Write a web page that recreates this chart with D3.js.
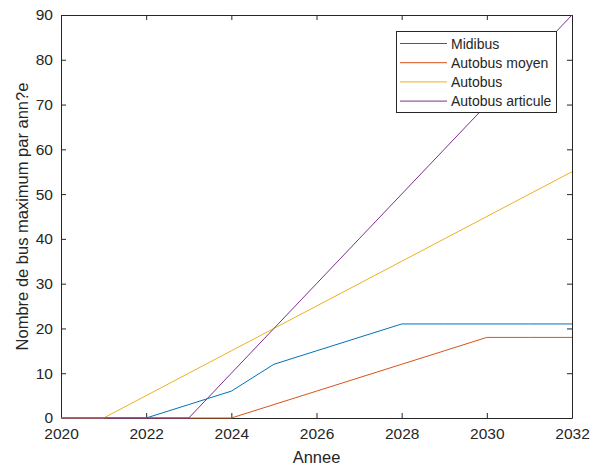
<!DOCTYPE html>
<html>
<head>
<meta charset="utf-8">
<script src="https://cdn.jsdelivr.net/npm/d3@7"></script>
<style>
  body { margin: 0; background: #fff; }
  text { font-family: "Liberation Sans", Arial, sans-serif; fill: #262626; }
</style>
</head>
<body>
<script>
const years = [2020, 2021, 2022, 2023, 2024, 2025, 2026, 2027, 2028, 2029, 2030, 2031, 2032];
const midibus = [0, 0, 0, 3, 6, 12, 15, 18, 21, 21, 21, 21, 21];
const autobusMoyen = [0, 0, 0, 0, 0, 3, 6, 9, 12, 15, 18, 18, 18];
const autobus = [0, 0, 5, 10, 15, 20, 25, 30, 35, 40, 45, 50, 55];
const autobusArticule = [0, 0, 0, 0, 10, 20, 30, 40, 50, 60, 70, 80, 90];
const seriesNames = ["Midibus", "Autobus moyen", "Autobus", "Autobus articule"];
const xTicks = [2020, 2022, 2024, 2026, 2028, 2030, 2032];
const yTicks = [0, 10, 20, 30, 40, 50, 60, 70, 80, 90];

function main() {
    const canvasWidth = 599;
    const canvasHeight = 466;
    const left = 61, right = 572, top = 15, bottom = 418;

    const svg = d3.select("body").append("svg")
        .attr("width", canvasWidth)
        .attr("height", canvasHeight);

    const xScale = d3.scaleLinear().domain([2020, 2032]).range([left, right]);
    const yScale = d3.scaleLinear().domain([0, 90]).range([bottom, top]);

    const colors = ["#0072BD", "#D95319", "#EDB120", "#7E2F8E"];
    const allSeries = [midibus, autobusMoyen, autobus, autobusArticule];

    // axes, MATLAB style: ticks pointing inward on all four sides
    const axisColor = "#262626";
    const styleAxis = g => {
        g.select(".domain").attr("stroke", axisColor);
        g.selectAll(".tick line").attr("stroke", axisColor);
        g.selectAll(".tick text").attr("font-size", "15.5px")
            .attr("font-family", "Liberation Sans, Arial, sans-serif").attr("fill", axisColor);
    };

    svg.append("g")
        .attr("transform", "translate(0," + bottom + ")")
        .call(d3.axisBottom(xScale).tickValues(xTicks).tickFormat(d3.format("d"))
            .tickSizeInner(-5).tickSizeOuter(0).tickPadding(10))
        .call(styleAxis);

    svg.append("g")
        .attr("transform", "translate(" + left + ",0)")
        .call(d3.axisLeft(yScale).tickValues(yTicks)
            .tickSizeInner(-5).tickSizeOuter(0).tickPadding(8))
        .call(styleAxis);

    svg.append("g")
        .attr("transform", "translate(0," + top + ")")
        .call(d3.axisTop(xScale).tickValues(xTicks).tickFormat("")
            .tickSizeInner(-5).tickSizeOuter(0))
        .call(styleAxis);

    svg.append("g")
        .attr("transform", "translate(" + right + ",0)")
        .call(d3.axisRight(yScale).tickValues(yTicks).tickFormat("")
            .tickSizeInner(-5).tickSizeOuter(0))
        .call(styleAxis);

    const line = d3.line()
        .x((d, i) => xScale(years[i]))
        .y(d => yScale(d));

    svg.selectAll(".series")
        .data(allSeries)
        .join("path")
        .attr("class", "series")
        .attr("fill", "none")
        .attr("stroke", (d, i) => colors[i])
        .attr("stroke-width", 1)
        .attr("d", d => line(d));

    // axis labels
    svg.append("text")
        .attr("x", (left + right) / 2)
        .attr("y", 463)
        .attr("text-anchor", "middle")
        .attr("font-size", "16.5px")
        .text("Annee");

    svg.append("text")
        .attr("transform", "translate(28," + (top + bottom) / 2 + ") rotate(-90)")
        .attr("text-anchor", "middle")
        .attr("font-size", "16.5px")
        .text("Nombre de bus maximum par ann?e");

    // legend
    const legend = svg.append("g").attr("transform", "translate(396,31)");
    legend.append("rect")
        .attr("x", 0.5).attr("y", 0.5)
        .attr("width", 160).attr("height", 81)
        .attr("fill", "#fff")
        .attr("stroke", axisColor)
        .attr("stroke-width", 1);

    const items = legend.selectAll(".item")
        .data(seriesNames)
        .join("g")
        .attr("class", "item")
        .attr("transform", (d, i) => "translate(0," + (12.5 + i * 19.2) + ")");

    items.append("line")
        .attr("x1", 4).attr("x2", 51)
        .attr("stroke", (d, i) => colors[i])
        .attr("stroke-width", 1);

    items.append("text")
        .attr("x", 55)
        .attr("y", 5)
        .attr("font-size", "14px")
        .text(d => d);
}
main();
</script>
</body>
</html>
